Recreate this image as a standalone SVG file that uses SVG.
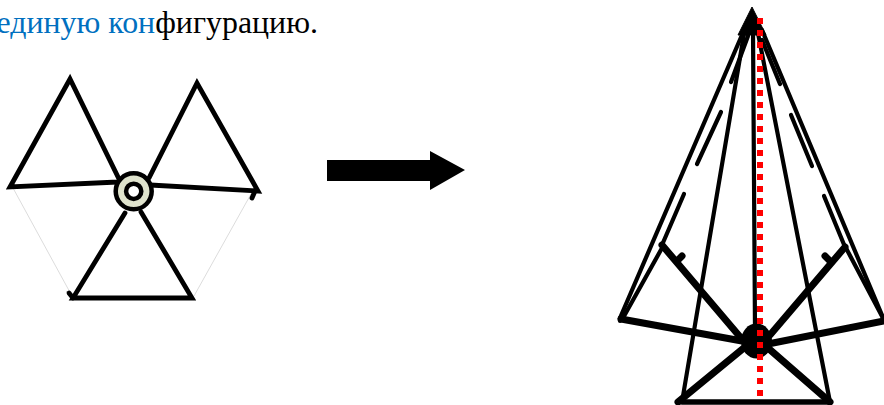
<svg xmlns="http://www.w3.org/2000/svg" width="884" height="405" viewBox="0 0 884 405">
<style>
.l{fill:none;stroke:#000;stroke-linecap:round;stroke-linejoin:miter}
.a{stroke-width:4.200}
.f{stroke-width:4.800}
.b{stroke-width:5.500}
.c{stroke-width:7}
.g{fill:none;stroke:#dcdcdc;stroke-width:1}
text{font-family:"Liberation Serif","Times New Roman",serif;font-size:31.900px}
</style>
<rect width="884" height="405" fill="#fff"/>
<text id="caption" x="318" y="33" text-anchor="end" fill="#000"><tspan fill="#0070c0">единую кон</tspan>фигурацию.</text>
<g id="flat-figure">
<path class="g" d="M13 188L72 296M251 194L194 296"/>
<path class="l f" d="M119 179L70 79L10 187L118 182"/>
<path class="l f" d="M149 178L197 83L258 191L150 185"/>
<path class="l f" d="M255 191L252 198"/>
<path class="l f" d="M125 213L73 298L192 298L141 212"/>
<path class="l f" d="M73 298L69 293"/>
<circle cx="133.700" cy="191.300" r="18" fill="#dfe3cd" stroke="#000" stroke-width="4.500"/>
<circle cx="133.700" cy="191.300" r="7.600" fill="#fff" stroke="#000" stroke-width="4.500"/>
</g>
<g id="arrow">
<path d="M327 160H430V151L465 170L430 190V181H327Z" fill="#000"/>
</g>
<g id="cone-figure">
<g id="cone-lines">
<path class="l a" d="M620 318L745 28"/>
<path class="l a" d="M884 320L762 30"/>
<path class="l a" d="M682 402L745 28"/>
<path class="l a" d="M830 402L757 28"/>
<path class="l a" d="M753 30L755 330"/>
<path class="l a" d="M662 245L684 194"/>
<path class="l a" d="M697 164L721 112"/>
<path class="l a" d="M731 82L748 36"/>
<path class="l a" d="M845 247L824 196"/>
<path class="l a" d="M812 166L791 115"/>
<path class="l a" d="M780 84L762 40"/>
<path class="l a" d="M623 318L662 248"/>
<path class="l a" d="M884 320L846 248"/>
</g>
<path d="M752 7L738 35H766Z" fill="#000" stroke="#000" stroke-width="1"/>
<path class="l c" d="M621 319L742 341"/>
<path class="l c" d="M884 321L768 344"/>
<path class="l c" d="M662 245L741 338"/>
<path class="l c" d="M845 247L770 335"/>
<path class="l c" d="M678 402L745 347"/>
<path class="l c" d="M830 402L768 348"/>
<path class="l b" d="M682 402H830"/>
<path class="l c" d="M677 261L682 256"/>
<path class="l c" d="M825 256L830 261"/>
<path class="l a" d="M620 318V321"/>
<ellipse cx="756.500" cy="341" rx="15.500" ry="17.500" fill="#000"/>
<path d="M760 18V396" fill="none" stroke="#f00" stroke-width="6" stroke-dasharray="6 6"/>
</g>
</svg>
